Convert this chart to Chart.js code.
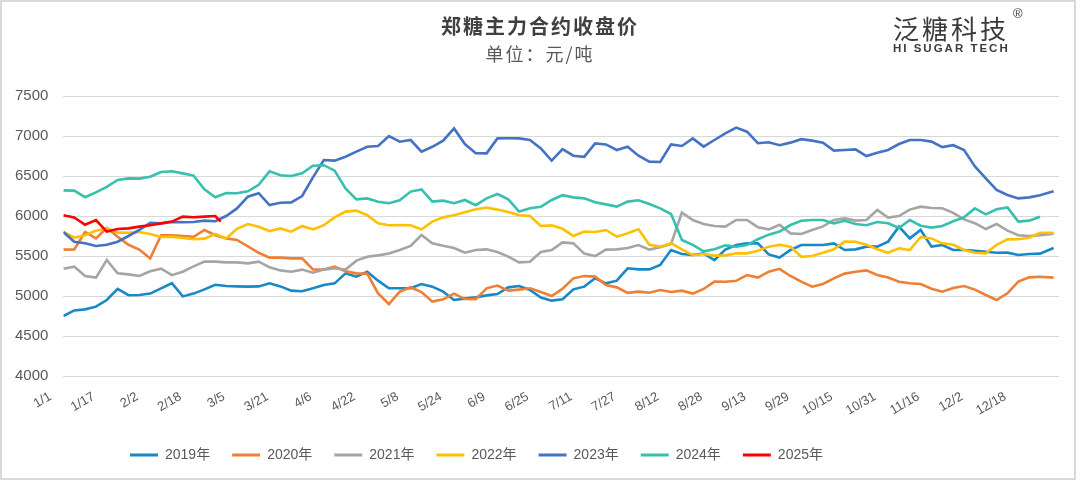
<!DOCTYPE html>
<html>
<head>
<meta charset="utf-8">
<script src="https://cdn.jsdelivr.net/npm/chart.js@4.4.1/dist/chart.umd.min.js"></script>
<style>
html, body { margin: 0; padding: 0; background: #fff; }
#wrap { position: relative; width: 1080px; height: 481px; overflow: hidden; }
#frame { position: absolute; left: 0; top: 0; width: 1076px; height: 480px; border: 2px solid #d9d9d9; box-sizing: border-box; }
#chart { position: absolute; left: 0; top: 0; }
.title { position: absolute; left: 0; width: 1080px; text-align: center; font-family: "Noto Sans CJK SC", sans-serif; }
#t1 { top: 11px; font-size: 20px; font-weight: bold; letter-spacing: 2px; color: #404040; }
#t2 { top: 40px; font-size: 18px; color: #595959; letter-spacing: 2px; }
#logo { position: absolute; left: 893px; top: 15px; font-family: "Noto Sans CJK SC", sans-serif; font-size: 26px; letter-spacing: 3px; color: #3a3a3a; line-height: 26px; }
#reg { position: absolute; left: 1013px; top: 6px; font-family: "Liberation Sans", sans-serif; font-size: 13px; color: #3a3a3a; }
#logo2 { position: absolute; left: 893px; top: 42px; font-family: "Liberation Sans", sans-serif; font-size: 11.5px; font-weight: bold; letter-spacing: 2px; color: #3a3a3a; }
</style>
</head>
<body>
<div id="wrap">
  <div id="frame"></div>
  <canvas id="chart" width="1080" height="481"></canvas>
  <div class="title" id="t1">郑糖主力合约收盘价</div>
  <div class="title" id="t2">单位：元/吨</div>
  <div id="logo">泛糖科技</div>
  <div id="reg">®</div>
  <div id="logo2">HI SUGAR TECH</div>
</div>
<script>
// day of year (leap-year calendar) for each reading, every 4 days
const days = [];
for (let d = 0; d <= 360; d += 4) days.push(d);
days.push(365);
const days2025 = [0, 4, 8, 12, 16, 20, 24, 28, 32, 36, 40, 44, 48, 52, 56, 58];

const tickLabels = ['1/1', '1/17', '2/2', '2/18', '3/5', '3/21', '4/6', '4/22', '5/8', '5/24', '6/9',
    '6/25', '7/11', '7/27', '8/12', '8/28', '9/13', '9/29', '10/15', '10/31', '11/16', '12/2', '12/18'];

const y2019 = [4750, 4820, 4833, 4867, 4950, 5090, 5010, 5013, 5030, 5096,
    5160, 4995, 5030, 5083, 5140, 5125, 5120, 5117, 5120, 5158,
    5120, 5067, 5060, 5096, 5137, 5158, 5283, 5242, 5304, 5192,
    5096, 5096, 5096, 5150, 5117, 5054, 4950, 4967, 4983, 5008,
    5025, 5108, 5125, 5075, 4980, 4942, 4960, 5083, 5117, 5221,
    5158, 5192, 5346, 5333, 5333, 5387, 5575, 5525, 5512, 5533,
    5450, 5580, 5637, 5658, 5658, 5520, 5480, 5575, 5637, 5637,
    5637, 5658, 5575, 5583, 5617, 5617, 5680, 5867, 5720, 5825,
    5617, 5637, 5575, 5575, 5566, 5554, 5540, 5542, 5512, 5525,
    5530, 5600];
const y2020 = [5580, 5583, 5800, 5720, 5850, 5740, 5640, 5580, 5470, 5760,
    5760, 5750, 5740, 5825, 5760, 5720, 5700, 5620, 5540, 5480,
    5480, 5470, 5470, 5333, 5330, 5367, 5310, 5283, 5280, 5033,
    4900, 5054, 5110, 5050, 4930, 4958, 5030, 4962, 4960, 5096,
    5130, 5067, 5080, 5096, 5050, 5000, 5090, 5221, 5250, 5242,
    5137, 5108, 5040, 5054, 5040, 5075, 5050, 5067, 5030, 5088,
    5180, 5179, 5190, 5262, 5230, 5304, 5340, 5250, 5180, 5117,
    5150, 5221, 5280, 5304, 5320, 5262, 5230, 5179, 5160, 5150,
    5090, 5054, 5100, 5125, 5080, 5013, 4950, 5033, 5180, 5233,
    5240, 5230];
const y2021 = [5340, 5367, 5250, 5230, 5450, 5283, 5270, 5250, 5310, 5342,
    5260, 5304, 5370, 5430, 5430, 5420, 5420, 5408, 5430, 5358,
    5320, 5304, 5330, 5292, 5330, 5346, 5330, 5442, 5490, 5508,
    5530, 5575, 5625, 5762, 5660, 5629, 5600, 5542, 5575, 5583,
    5550, 5492, 5420, 5429, 5550, 5575, 5670, 5658, 5530, 5500,
    5580, 5583, 5600, 5637, 5580, 5608, 5650, 6042, 5950, 5900,
    5875, 5867, 5950, 5950, 5860, 5833, 5890, 5783, 5775, 5825,
    5870, 5950, 5970, 5942, 5950, 6075, 5980, 6000, 6080, 6117,
    6100, 6096, 6040, 5958, 5910, 5837, 5900, 5817, 5760, 5750,
    5760, 5780];
const y2022 = [5800, 5729, 5760, 5817, 5845, 5792, 5790, 5800, 5775, 5737,
    5740, 5725, 5710, 5717, 5775, 5720, 5840, 5900, 5865, 5812,
    5845, 5804, 5875, 5833, 5885, 5983, 6055, 6067, 6010, 5908,
    5885, 5887, 5885, 5833, 5930, 5983, 6010, 6046, 6085, 6104,
    6080, 6050, 6010, 6000, 5875, 5883, 5840, 5750, 5805, 5800,
    5825, 5742, 5785, 5833, 5640, 5617, 5660, 5583, 5510, 5525,
    5505, 5508, 5535, 5533, 5565, 5617, 5640, 5617, 5490, 5500,
    5540, 5583, 5680, 5679, 5640, 5583, 5540, 5596, 5575, 5737,
    5720, 5658, 5640, 5575, 5540, 5533, 5640, 5708, 5710, 5729,
    5790, 5790];
const y2023 = [5800, 5679, 5660, 5625, 5640, 5679, 5750, 5825, 5915, 5908,
    5925, 5921, 5925, 5942, 5935, 6000, 6095, 6242, 6285, 6137,
    6165, 6170, 6250, 6483, 6700, 6692, 6740, 6804, 6865, 6875,
    7000, 6929, 6950, 6804, 6865, 6942, 7095, 6900, 6785, 6783,
    6970, 6971, 6970, 6950, 6845, 6692, 6835, 6754, 6740, 6908,
    6895, 6825, 6865, 6754, 6680, 6675, 6895, 6875, 6970, 6867,
    6950, 7033, 7105, 7054, 6910, 6921, 6885, 6917, 6960, 6942,
    6915, 6817, 6825, 6833, 6750, 6792, 6825, 6900, 6950, 6950,
    6930, 6862, 6885, 6825, 6620, 6471, 6325, 6262, 6220, 6233,
    6260, 6310];
const y2024 = [6320, 6317, 6235, 6296, 6365, 6450, 6470, 6467, 6490, 6550,
    6560, 6533, 6505, 6333, 6235, 6287, 6285, 6308, 6390, 6558,
    6510, 6500, 6535, 6629, 6635, 6567, 6345, 6208, 6220, 6179,
    6160, 6196, 6305, 6333, 6180, 6192, 6160, 6200, 6135, 6221,
    6275, 6208, 6055, 6096, 6115, 6200, 6260, 6233, 6220, 6171,
    6145, 6117, 6180, 6196, 6150, 6096, 6025, 5700, 5640, 5558,
    5585, 5633, 5615, 5637, 5710, 5767, 5805, 5887, 5940, 5950,
    5950, 5908, 5940, 5900, 5885, 5925, 5910, 5850, 5950, 5879,
    5855, 5875, 5935, 5983, 6095, 6021, 6085, 6108, 5930, 5942,
    5990, null];
const y2025 = [6010, 5983, 5890, 5950, 5805, 5837, 5845, 5867, 5885, 5908,
    5930, 5992, 5985, 5992, 6000, 5930];

const seriesNames = ['2019年', '2020年', '2021年', '2022年', '2023年', '2024年', '2025年'];
const seriesColors = ['#1789c7', '#ee7f34', '#a5a5a5', '#ffc000', '#4472c4', '#37c0ae', '#ff0000'];
const seriesValues = [y2019, y2020, y2021, y2022, y2023, y2024, y2025];

Chart.defaults.font.family = "'Liberation Sans', 'Noto Sans CJK SC', sans-serif";

const datasets = seriesValues.map((vals, i) => {
    const xs = vals === y2025 ? days2025 : days;
    return {
        label: seriesNames[i],
        data: vals.map((v, j) => ({ x: xs[j], y: v })),
        borderColor: seriesColors[i],
        backgroundColor: seriesColors[i],
        borderWidth: 2.6,
        pointRadius: 0,
        tension: 0,
        order: seriesValues.length - i
    };
});

// move legend row left, as in the original
const shiftLegend = {
    id: 'shiftLegend',
    afterLayout(chart) {
        chart.legend.left -= 53;
        chart.legend.right -= 53;
    }
};

const ctx = document.getElementById('chart').getContext('2d');
const chart = new Chart(ctx, {
    type: 'line',
    data: { datasets: datasets },
    plugins: [shiftLegend],
    options: {
        responsive: false,
        animation: false,
        layout: { padding: { left: 0, right: 21, top: 96, bottom: 9 } },
        scales: {
            x: {
                type: 'linear',
                min: 0,
                max: 367,
                grid: { display: false, drawTicks: false },
                border: { display: false },
                afterFit: scale => { scale.height = 50; },
                ticks: {
                    stepSize: 16,
                    autoSkip: false,
                    minRotation: 30,
                    maxRotation: 30,
                    labelOffset: -13,
                    padding: 13,
                    color: '#595959',
                    font: { size: 13 },
                    callback: v => (v % 16 === 0 && tickLabels[v / 16]) ? tickLabels[v / 16] : ''
                }
            },
            y: {
                min: 4000,
                max: 7500,
                grid: { color: '#d9d9d9', drawTicks: false },
                border: { display: false },
                ticks: { stepSize: 500, padding: 15, color: '#595959', font: { size: 15 }, callback: v => String(v) }
            }
        },
        plugins: {
            tooltip: { enabled: false },
            legend: {
                position: 'bottom',
                labels: {
                    boxWidth: 28,
                    boxHeight: 3,
                    padding: 22,
                    color: '#595959',
                    font: { size: 14 },
                    sort: (a, b) => a.datasetIndex - b.datasetIndex,
                    generateLabels: c => Chart.defaults.plugins.legend.labels.generateLabels(c)
                        .map(l => Object.assign(l, { lineWidth: 0 }))
                }
            }
        }
    }
});
</script>
</body>
</html>
